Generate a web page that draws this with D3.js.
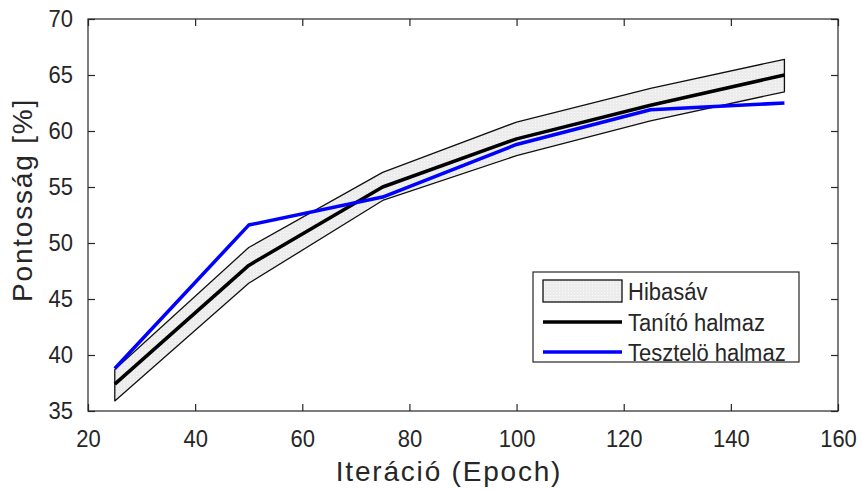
<!DOCTYPE html>
<html>
<head>
<meta charset="utf-8">
<script src="https://cdn.jsdelivr.net/npm/d3@7"></script>
<style>
  html, body { margin: 0; padding: 0; background: #fff; }
  svg { display: block; }
  text { font-family: "Liberation Sans", Arial, sans-serif; fill: #262626; }
</style>
</head>
<body>
<svg id="chart" width="862" height="491"></svg>
<script>
const epochs = [25, 50, 75, 100, 125, 150];
const trainAcc = [37.4, 48.0, 55.0, 59.3, 62.3, 65.0];
const bandUpper = [38.7, 49.6, 56.3, 60.8, 63.8, 66.4];
const bandLower = [35.9, 46.4, 53.8, 57.8, 60.9, 63.5];
const testAcc = [38.8, 51.6, 54.1, 58.8, 61.9, 62.5];
const xTicks = [20, 40, 60, 80, 100, 120, 140, 160];
const yTicks = [35, 40, 45, 50, 55, 60, 65, 70];
const legendLabels = ["Hibasáv", "Tanító halmaz", "Tesztelö halmaz"];
const xLabel = "Iteráció (Epoch)";
const yLabel = "Pontosság [%]";

const svg = d3.select("#chart");
const L = 88, R = 838, T = 19, B = 411;
const x = d3.scaleLinear().domain([20, 160]).range([L, R]);
const y = d3.scaleLinear().domain([35, 70]).range([B, T]);
const axisColor = "#262626";
const fs = 22;       // tick / legend font
const fsLab = 28;    // axis label font
const sy = 1.12;     // vertical stretch of glyphs

const defs = svg.append("defs");
const pat = defs.append("pattern").attr("id", "dots").attr("width", 3).attr("height", 3)
  .attr("patternUnits", "userSpaceOnUse");
pat.append("rect").attr("width", 3).attr("height", 3).attr("fill", "#ececec");
pat.append("rect").attr("x", 1).attr("y", 1).attr("width", 1).attr("height", 1).attr("fill", "#fafafa");

const bandData = epochs.map((e, i) => ({ x: e, lo: bandLower[i], hi: bandUpper[i] }));
const area = d3.area().x(d => x(d.x)).y0(d => y(d.lo)).y1(d => y(d.hi));
svg.append("path").attr("d", area(bandData) + "Z")
  .attr("fill", "url(#dots)").attr("stroke", "#111").attr("stroke-width", 1.3)
  .attr("stroke-linejoin", "round");

const line = d3.line().x(d => x(d[0])).y(d => y(d[1]));
svg.append("path").datum(epochs.map((e, i) => [e, trainAcc[i]]))
  .attr("d", line).attr("fill", "none").attr("stroke", "#000").attr("stroke-width", 3.5)
  .attr("stroke-linejoin", "round");
svg.append("path").datum(epochs.map((e, i) => [e, testAcc[i]]))
  .attr("d", line).attr("fill", "none").attr("stroke", "#0000ff").attr("stroke-width", 3.5)
  .attr("stroke-linejoin", "round");

const tickLen = 7;
svg.append("rect").attr("x", L).attr("y", T).attr("width", R - L).attr("height", B - T)
  .attr("fill", "none").attr("stroke", axisColor).attr("stroke-width", 1.2);

const xb = d3.axisBottom(x).tickValues(xTicks).tickSizeInner(-tickLen).tickSizeOuter(0);
const xt = d3.axisTop(x).tickValues(xTicks).tickSizeInner(-tickLen).tickSizeOuter(0).tickFormat("");
const yl = d3.axisLeft(y).tickValues(yTicks).tickSizeInner(-tickLen).tickSizeOuter(0).tickPadding(15);
const yr = d3.axisRight(y).tickValues(yTicks).tickSizeInner(-tickLen).tickSizeOuter(0).tickFormat("");

function style(g) {
  g.select(".domain").remove();
  g.selectAll(".tick line").attr("stroke", axisColor).attr("stroke-width", 1.2);
  g.selectAll(".tick text").attr("font-size", fs).attr("fill", axisColor)
    .style("font-family", '"Liberation Sans", Arial, sans-serif');
}
const gxb = svg.append("g").attr("transform", `translate(0,${B})`).call(xb).call(style);
gxb.selectAll(".tick text").attr("y", 0).attr("dy", 0)
  .attr("transform", `translate(0,36) scale(1,${sy})`);
svg.append("g").attr("transform", `translate(0,${T})`).call(xt).call(style);
const gyl = svg.append("g").attr("transform", `translate(${L},0)`).call(yl).call(style);
gyl.selectAll(".tick text").attr("transform", `scale(1,${sy})`);
svg.append("g").attr("transform", `translate(${R},0)`).call(yr).call(style);

svg.append("text").attr("transform", `translate(449,481)`).attr("text-anchor", "middle")
  .attr("font-size", fsLab).attr("letter-spacing", 1.8).text(xLabel);
svg.append("text").attr("transform", `translate(32,200) rotate(-90)`)
  .attr("text-anchor", "middle").attr("font-size", fsLab).attr("letter-spacing", 1.8).text(yLabel);

const lg = svg.append("g");
lg.append("rect").attr("x", 533).attr("y", 272).attr("width", 266).attr("height", 90)
  .attr("fill", "#fff").attr("stroke", axisColor).attr("stroke-width", 1.2);
const rowY = [291, 322, 352];
lg.append("rect").attr("x", 543).attr("y", 280).attr("width", 79).attr("height", 22)
  .attr("fill", "url(#dots)").attr("stroke", "#111").attr("stroke-width", 1.3);
lg.append("line").attr("x1", 543).attr("x2", 622).attr("y1", rowY[1]).attr("y2", rowY[1])
  .attr("stroke", "#000").attr("stroke-width", 3.5);
lg.append("line").attr("x1", 543).attr("x2", 622).attr("y1", rowY[2]).attr("y2", rowY[2])
  .attr("stroke", "#0000ff").attr("stroke-width", 3.5);
legendLabels.forEach((t, i) => {
  lg.append("text").attr("transform", `translate(628,${rowY[i]}) scale(1,${sy})`)
    .attr("dy", "0.36em").attr("font-size", fs).text(t);
});
</script>
</body>
</html>
